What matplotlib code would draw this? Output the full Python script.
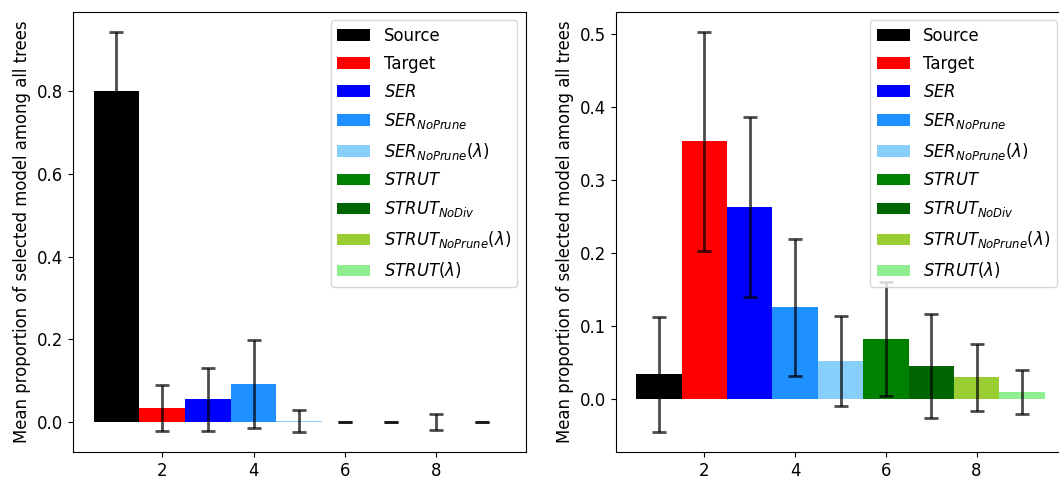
import numpy as np
import matplotlib
matplotlib.use("Agg")
import matplotlib.pyplot as plt

labels = ["Source", "Target", r"$SER$", r"$SER_{NoPrune}$", r"$SER_{NoPrune}(\lambda)$",
          r"$STRUT$", r"$STRUT_{NoDiv}$", r"$STRUT_{NoPrune}(\lambda)$", r"$STRUT(\lambda)$"]
colors = ["black", "red", "blue", "dodgerblue", "lightskyblue",
          "green", "darkgreen", "yellowgreen", "lightgreen"]
positions = [1, 2, 3, 4, 5, 6, 7, 8, 9]

left_means = [0.800, 0.033, 0.054, 0.092, 0.002, 0.0, 0.0, 0.0, 0.0]
left_errs = [0.144, 0.055, 0.076, 0.107, 0.027, 0.0, 0.0, 0.019, 0.0]

right_means = [0.034, 0.353, 0.263, 0.126, 0.052, 0.083, 0.045, 0.030, 0.010]
right_errs = [0.079, 0.150, 0.123, 0.094, 0.062, 0.078, 0.071, 0.046, 0.030]

plt.rcParams["font.size"] = 11.9
plt.rcParams["mathtext.fontset"] = "dejavusans"

W, H = 1059, 478
fig = plt.figure(figsize=(W / 100, H / 100), dpi=100)
ax1 = fig.add_axes([73 / W, 26 / H, 452.5 / W, 440 / H])
ax2 = fig.add_axes([616 / W, 26 / H, 449 / W, 440 / H])


def draw(ax, means, errs):
    for x, m, e, c, lab in zip(positions, means, errs, colors, labels):
        ax.bar(x, m, width=1, color=c, label=lab, yerr=e, capsize=5,
               error_kw=dict(ecolor="black", alpha=0.7, elinewidth=2, capthick=2))
    ax.set_xticks([2, 4, 6, 8])
    ax.set_ylabel("Mean proportion of selected model among all trees")
    ax.legend(loc="upper right", labelspacing=0.6)


draw(ax1, left_means, left_errs)
draw(ax2, right_means, right_errs)

fig.savefig("out.png", dpi=100)
